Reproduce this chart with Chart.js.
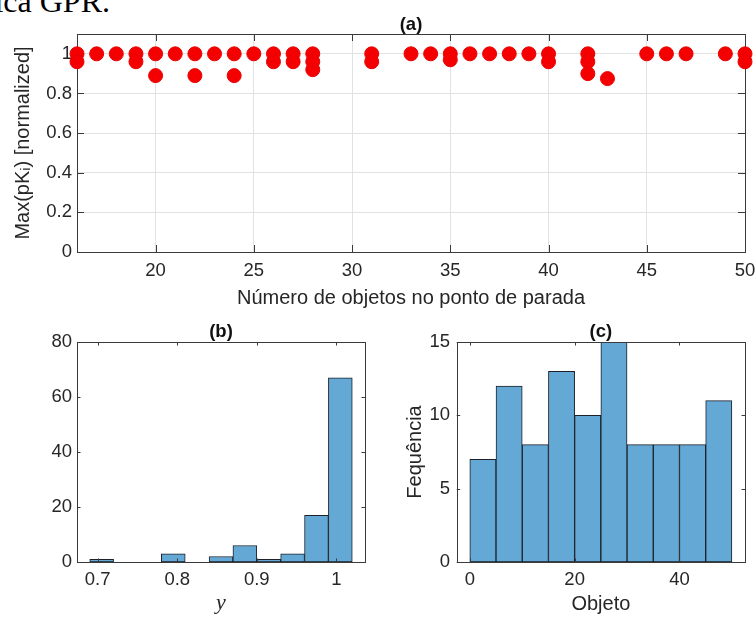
<!DOCTYPE html>
<html><head><meta charset="utf-8">
<script src="https://cdn.jsdelivr.net/npm/chart.js@4.4.0/dist/chart.umd.min.js"></script>
<style>
html,body{margin:0;padding:0;background:#fff;}
#wrap{position:relative;width:756px;height:617px;overflow:hidden;background:#fff;}
.box{position:absolute;}
#cut{position:absolute;right:646px;top:-15px;font:32px 'Liberation Serif','Times New Roman',serif;line-height:32px;white-space:nowrap;color:#000;}
</style></head><body>
<div id="wrap">
<div id="cut">técnica GPR.</div>
<div class="box" style="left:0;top:0;width:756px;height:312px"><canvas id="ca"></canvas></div>
<div class="box" style="left:0;top:312px;width:378px;height:305px"><canvas id="cb"></canvas></div>
<div class="box" style="left:378px;top:312px;width:378px;height:305px"><canvas id="cc"></canvas></div>
</div>
<script>
// ---- data ----
const scatterX = [16,16,17,18,19,19,20,20,21,22,22,23,24,24,25,26,26,27,27,28,28,28,31,31,33,34,35,35,36,37,38,39,40,40,42,42,42,43,45,46,47,49,50,50];
const scatterY = [1,0.96,1,1,1,0.96,1,0.89,1,1,0.89,1,1,0.89,1,1,0.96,1,0.96,1,0.96,0.92,1,0.96,1,1,1,0.97,1,1,1,1,1,0.96,1,0.96,0.9,0.875,1,1,1,1,1,0.96];
const xTicksA = [20,25,30,35,40,45,50];
const yTicksA = [0,0.2,0.4,0.6,0.8,1];

const binCentersB = [0.705,0.735,0.765,0.795,0.825,0.855,0.885,0.915,0.945,0.975,1.005];
const countsB = [1,0,0,3,0,2,6,1,3,17,67];
const xTicksB = [0.7,0.8,0.9,1];
const yTicksB = [0,20,40,60,80];

const binCentersC = [2.5,7.5,12.5,17.5,22.5,27.5,32.5,37.5,42.5,47.5];
const countsC = [7,12,8,13,10,15,8,8,8,11];
const xTicksC = [0,20,40];
const yTicksC = [0,5,10,15];

// ---- styles ----
const FONT = "'Liberation Sans', Arial, sans-serif";
const TXT = '#262626';
const AXIS = '#3a3a3a';
const GRID = '#e2e2e2';
const BAR = 'rgb(100,168,214)';
const EDGE = 'rgb(28,32,40)';

function framePlugin(tickLen, onTop){
  const draw = (chart) => {
    const {ctx, chartArea:{left,right,top,bottom}} = chart;
    const xs = chart.scales.x, ys = chart.scales.y;
    ctx.save();
    ctx.strokeStyle = AXIS; ctx.lineWidth = 1;
    ctx.beginPath();
    xs.ticks.forEach(t => {
      const p = Math.round(xs.getPixelForValue(t.value)) + 0.5;
      ctx.moveTo(p, bottom); ctx.lineTo(p, bottom - tickLen);
      ctx.moveTo(p, top); ctx.lineTo(p, top + tickLen);
    });
    ys.ticks.forEach(t => {
      const p = Math.round(ys.getPixelForValue(t.value)) + 0.5;
      ctx.moveTo(left, p); ctx.lineTo(left + tickLen, p);
      ctx.moveTo(right, p); ctx.lineTo(right - tickLen, p);
    });
    ctx.stroke();
    ctx.strokeRect(Math.round(left) + 0.5, Math.round(top) + 0.5, Math.round(right - left), Math.round(bottom - top));
    ctx.restore();
  };
  return onTop ? {id:'frame', afterDatasetsDraw: draw} : {id:'frame', beforeDatasetsDraw: draw};
}

function tickSetter(arr){ return s => { s.ticks = arr.map(v => ({value: v})); }; }
const tickFont = {family: FONT, size: 18.5};
const labelFont = {family: FONT, size: 20};
const titleFont = {family: FONT, size: 18.5, weight: 'bold', lineHeight: 1};

// ---- chart (a) ----
new Chart(document.getElementById('ca'), {
  type: 'scatter',
  data: { datasets: [{
    data: scatterX.map((x, i) => ({x, y: scatterY[i]})),
    backgroundColor: 'rgb(245,0,0)', borderColor: 'rgb(235,0,0)', borderWidth: 1,
    pointRadius: 7, pointHoverRadius: 7, clip: false
  }]},
  options: {
    responsive: true, maintainAspectRatio: false, animation: false, events: [],
    layout: {padding: {left: 0, right: 11, top: 0, bottom: 0}},
    plugins: {
      legend: {display: false}, tooltip: {enabled: false},
      title: {display: true, text: '(a)', fullSize: false, color: '#111',
        font: titleFont, padding: {top: 15.5, bottom: 0}}
    },
    scales: {
      x: {type: 'linear', min: 16, max: 50,
        afterBuildTicks: tickSetter(xTicksA),
        afterFit: s => { s.height = 60; s.paddingLeft = 0; s.paddingRight = 0; },
        grid: {color: GRID, drawTicks: false}, border: {display: false},
        ticks: {color: TXT, font: tickFont, padding: 8, maxRotation: 0, autoSkip: false, callback: v => String(v)},
        title: {display: true, text: 'Número de objetos no ponto de parada', color: TXT, font: labelFont, padding: {top: 0, bottom: 2}}
      },
      y: {type: 'linear', min: 0, max: 1.1,
        afterBuildTicks: tickSetter(yTicksA),
        afterFit: s => { s.width = 77; s.paddingTop = 0; s.paddingBottom = 0; },
        grid: {color: GRID, drawTicks: false}, border: {display: false},
        ticks: {color: TXT, font: tickFont, padding: 5, autoSkip: false, callback: v => String(v)},
        title: {display: true, text: 'Max(pKᵢ) [normalized]', color: TXT, font: labelFont, padding: {top: 11, bottom: 0}}
      }
    }
  },
  plugins: [framePlugin(7, false)]
});

// ---- histogram factory ----
function histChart(id, centers, counts, xmin, xmax, ymax, xt, yt, title, xlabel, xlabelFont, ylabel, yWidth, yPad, yTitlePad, padRight){
  new Chart(document.getElementById(id), {
    type: 'bar',
    data: { datasets: [{
      data: centers.map((x, i) => ({x, y: counts[i]})),
      backgroundColor: BAR, borderColor: EDGE, borderWidth: 1, borderSkipped: false,
      barPercentage: 1, categoryPercentage: 1, grouped: false
    }]},
    options: {
      responsive: true, maintainAspectRatio: false, animation: false, events: [],
      layout: {padding: {left: 0, right: padRight, top: 0, bottom: 0}},
      plugins: {
        legend: {display: false}, tooltip: {enabled: false},
        title: {display: true, text: title, fullSize: false, color: '#111',
          font: titleFont, padding: {top: 10.75, bottom: 0.75}}
      },
      scales: {
        x: {type: 'linear', min: xmin, max: xmax, offset: false,
          afterBuildTicks: tickSetter(xt),
          afterFit: s => { s.height = 55; s.paddingLeft = 0; s.paddingRight = 0; },
          grid: {display: false, offset: false, drawTicks: false}, border: {display: false},
          ticks: {color: TXT, font: tickFont, padding: 7, maxRotation: 0, autoSkip: false, callback: v => String(v)},
          title: {display: true, text: xlabel, color: TXT, font: xlabelFont, padding: {top: 0, bottom: 1}}
        },
        y: {type: 'linear', min: 0, max: ymax,
          afterBuildTicks: tickSetter(yt),
          afterFit: s => { s.width = yWidth; s.paddingTop = 0; s.paddingBottom = 0; },
          grid: {display: false, drawTicks: false}, border: {display: false},
          ticks: {color: TXT, font: tickFont, padding: yPad, autoSkip: false, callback: v => String(v)},
          title: {display: !!ylabel, text: ylabel, color: TXT, font: labelFont, padding: {top: yTitlePad, bottom: 0}}
        }
      }
    },
    plugins: [framePlugin(3.5, true)]
  });
}

histChart('cb', binCentersB, countsB, 0.674, 1.036, 80, xTicksB, yTicksB, '(b)', 'y',
  {family: "'Liberation Serif', 'Times New Roman', serif", size: 22, style: 'italic'}, '', 77, 5, 0, 13);
histChart('cc', binCentersC, countsC, -2.5, 52.5, 15, xTicksC, yTicksC, '(c)', 'Objeto',
  labelFont, 'Fequência', 78.7, 6.7, 25, 11);
</script>
</body></html>
